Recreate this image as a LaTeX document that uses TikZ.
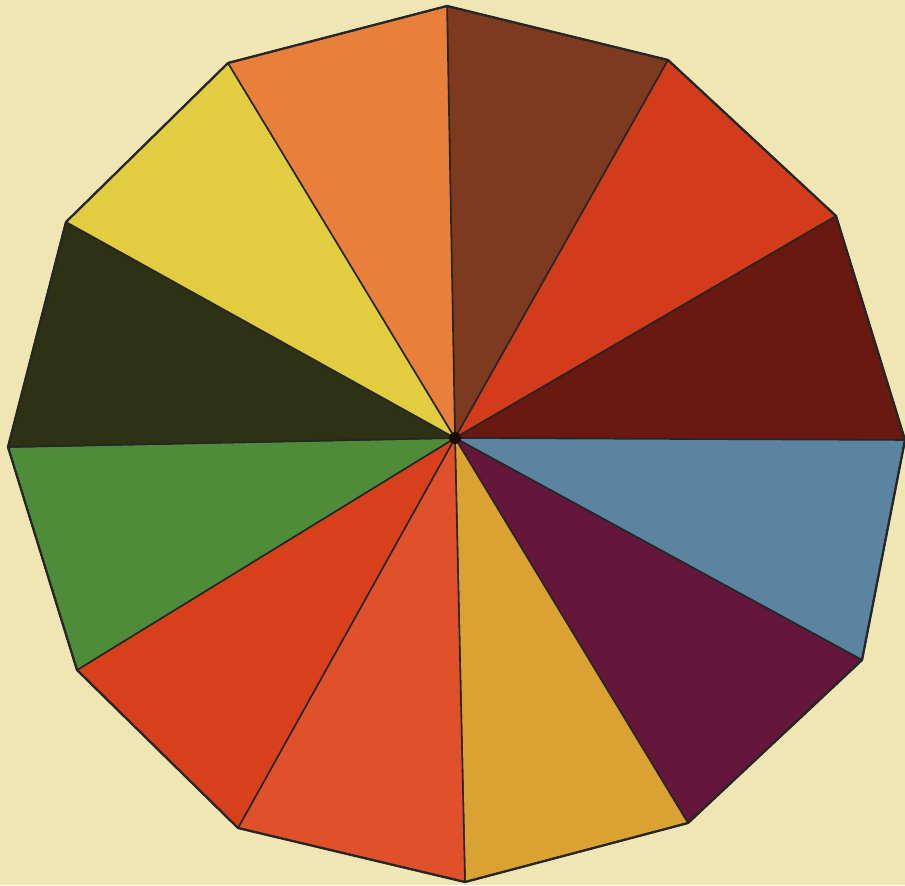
\documentclass[tikz,border=0pt]{standalone}
\usepackage{tikz}
\usetikzlibrary{calc}
\definecolor{paper}{HTML}{EFE6B4}
\definecolor{wbrown}{HTML}{7D3A1E}
\definecolor{wredorange}{HTML}{D23C1A}
\definecolor{wmaroon}{HTML}{6A1812}
\definecolor{wblue}{HTML}{5A84A0}
\definecolor{wpurple}{HTML}{64173A}
\definecolor{wgold}{HTML}{D9A233}
\definecolor{worangered}{HTML}{E0502A}
\definecolor{wred}{HTML}{D8401C}
\definecolor{wgreen}{HTML}{4F8C3A}
\definecolor{wolive}{HTML}{2E3214}
\definecolor{wyellow}{HTML}{E2CC40}
\definecolor{worange}{HTML}{E8803C}
\tikzset{
	wedge/.style={
			draw=black!85,
			line width=0.9pt,
			line join=round
		},
	rim/.style={
			draw=black!85,
			line width=1.3pt,
			line join=round
		}
}

\begin{document}
\begin{tikzpicture}[x=0.02cm, y=-0.02cm]
				\fill[paper] (0,0) rectangle (905,885);
				\useasboundingbox (0,0) rectangle (905,885);
				% centre and rim corners
				\coordinate (c) at (455,438);
				\coordinate (v1) at (447,6);
				\coordinate (v2) at (668,60);
				\coordinate (v3) at (836,216);
				\coordinate (v4) at (905,440);
				\coordinate (v5) at (862,660);
				\coordinate (v6) at (688,823);
				\coordinate (v7) at (465,882);
				\coordinate (v8) at (238,828);
				\coordinate (v9) at (77,670);
				\coordinate (v10) at (8,447);
				\coordinate (v11) at (66,222);
				\coordinate (v12) at (228,63);
				\foreach \a/\b/\col in {1/2/wbrown, 2/3/wredorange, 3/4/wmaroon, 4/5/wblue,
						5/6/wpurple, 6/7/wgold, 7/8/worangered, 8/9/wred,
						9/10/wgreen, 10/11/wolive, 11/12/wyellow, 12/1/worange}
					\filldraw[wedge, fill=\col] (c) -- (v\a) -- (v\b) -- cycle;
				\draw[rim] (v1) -- (v2) -- (v3) -- (v4) -- (v5) -- (v6) -- (v7)
					-- (v8) -- (v9) -- (v10) -- (v11) -- (v12) -- cycle;
				\fill[black!80!wbrown] (c) circle (6);
			\end{tikzpicture}
\end{document}
